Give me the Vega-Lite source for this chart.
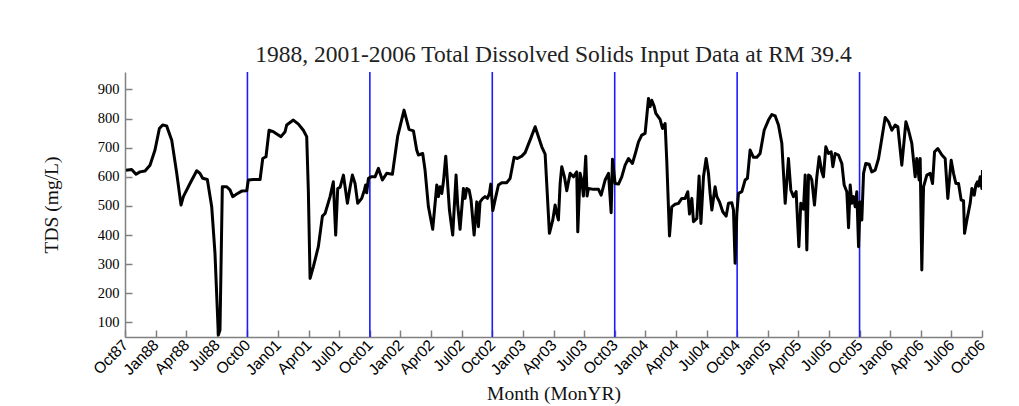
{
  "$schema": "https://vega.github.io/schema/vega-lite/v6.json",
  "autosize": "none",
  "width": 857,
  "height": 265,
  "padding": {"left": 125, "top": 72, "right": 37, "bottom": 69},
  "background": "white",
  "config": {
    "view": {"stroke": null},
    "axis": {
      "grid": false,
      "domainColor": "#808080",
      "domainWidth": 1.5,
      "tickColor": "#808080",
      "tickWidth": 1.5,
      "labelColor": "#000000",
      "labelOverlap": false,
      "titleColor": "#111111",
      "titleFont": "Liberation Serif",
      "titleFontWeight": "normal",
      "titleFontSize": 19.5
    }
  },
  "title": {
    "text": "1988, 2001-2006 Total Dissolved Solids Input Data at RM 39.4",
    "font": "Liberation Serif",
    "fontSize": 23.5,
    "fontWeight": "normal",
    "color": "#222222",
    "anchor": "middle",
    "offset": 5
  },
  "datasets": {
    "tds": [
      {"t": 0.1, "v": 623}, {"t": 0.65, "v": 625}, {"t": 1.08, "v": 609}, {"t": 1.47, "v": 617}, {"t": 1.96, "v": 620},
      {"t": 2.45, "v": 640}, {"t": 2.94, "v": 692}, {"t": 3.37, "v": 766}, {"t": 3.69, "v": 778}, {"t": 4.08, "v": 775},
      {"t": 4.58, "v": 726}, {"t": 5.07, "v": 612}, {"t": 5.49, "v": 503}, {"t": 5.72, "v": 532}, {"t": 6.37, "v": 577},
      {"t": 7.03, "v": 621}, {"t": 7.35, "v": 612}, {"t": 7.61, "v": 595}, {"t": 8.07, "v": 591}, {"t": 8.5, "v": 497},
      {"t": 8.82, "v": 337}, {"t": 9.15, "v": 57}, {"t": 9.31, "v": 74}, {"t": 9.54, "v": 566}, {"t": 9.97, "v": 566},
      {"t": 10.29, "v": 555}, {"t": 10.56, "v": 532}, {"t": 10.95, "v": 541}, {"t": 11.44, "v": 551}, {"t": 11.93, "v": 552},
      {"t": 12.09, "v": 589}, {"t": 12.58, "v": 591}, {"t": 13.24, "v": 591}, {"t": 13.5, "v": 663}, {"t": 13.82, "v": 669},
      {"t": 14.12, "v": 760}, {"t": 14.54, "v": 755}, {"t": 15.29, "v": 738}, {"t": 15.69, "v": 755}, {"t": 15.85, "v": 778},
      {"t": 16.5, "v": 795}, {"t": 17.0, "v": 781}, {"t": 17.48, "v": 760}, {"t": 17.81, "v": 738}, {"t": 17.97, "v": 554},
      {"t": 18.14, "v": 251}, {"t": 18.46, "v": 291}, {"t": 18.95, "v": 360}, {"t": 19.35, "v": 465}, {"t": 19.61, "v": 474},
      {"t": 20.1, "v": 532}, {"t": 20.42, "v": 583}, {"t": 20.65, "v": 400}, {"t": 20.85, "v": 560}, {"t": 21.08, "v": 564},
      {"t": 21.41, "v": 606}, {"t": 21.8, "v": 509}, {"t": 22.06, "v": 564}, {"t": 22.29, "v": 606}, {"t": 22.55, "v": 577},
      {"t": 22.81, "v": 509}, {"t": 23.2, "v": 526}, {"t": 23.46, "v": 554}, {"t": 23.59, "v": 572}, {"t": 23.69, "v": 545},
      {"t": 23.86, "v": 595}, {"t": 24.12, "v": 600}, {"t": 24.51, "v": 600}, {"t": 24.84, "v": 629}, {"t": 25.23, "v": 589},
      {"t": 25.65, "v": 612}, {"t": 26.21, "v": 609}, {"t": 26.73, "v": 740}, {"t": 27.35, "v": 829}, {"t": 27.84, "v": 763},
      {"t": 28.27, "v": 758}, {"t": 28.59, "v": 692}, {"t": 28.76, "v": 675}, {"t": 29.18, "v": 680}, {"t": 29.41, "v": 623},
      {"t": 29.74, "v": 497}, {"t": 30.16, "v": 420}, {"t": 30.56, "v": 572}, {"t": 30.72, "v": 532}, {"t": 30.88, "v": 566},
      {"t": 31.05, "v": 543}, {"t": 31.21, "v": 583}, {"t": 31.44, "v": 671}, {"t": 31.6, "v": 589}, {"t": 31.8, "v": 486},
      {"t": 32.12, "v": 400}, {"t": 32.45, "v": 606}, {"t": 32.61, "v": 503}, {"t": 32.84, "v": 420}, {"t": 33.17, "v": 560},
      {"t": 33.33, "v": 526}, {"t": 33.5, "v": 560}, {"t": 33.73, "v": 555}, {"t": 33.92, "v": 520}, {"t": 34.22, "v": 400},
      {"t": 34.48, "v": 514}, {"t": 34.64, "v": 429}, {"t": 34.8, "v": 514}, {"t": 35.07, "v": 526}, {"t": 35.29, "v": 532},
      {"t": 35.52, "v": 526}, {"t": 35.72, "v": 543}, {"t": 35.85, "v": 575}, {"t": 36.05, "v": 484}, {"t": 36.27, "v": 520},
      {"t": 36.6, "v": 572}, {"t": 36.93, "v": 580}, {"t": 37.42, "v": 580}, {"t": 37.75, "v": 595}, {"t": 38.14, "v": 667},
      {"t": 38.46, "v": 663}, {"t": 38.89, "v": 671}, {"t": 39.22, "v": 683}, {"t": 39.77, "v": 732}, {"t": 40.2, "v": 772},
      {"t": 40.85, "v": 703}, {"t": 41.18, "v": 678}, {"t": 41.6, "v": 406}, {"t": 41.93, "v": 452}, {"t": 42.16, "v": 503},
      {"t": 42.32, "v": 474}, {"t": 42.48, "v": 452}, {"t": 42.65, "v": 577}, {"t": 42.81, "v": 635}, {"t": 43.07, "v": 600},
      {"t": 43.3, "v": 552}, {"t": 43.63, "v": 612}, {"t": 43.95, "v": 600}, {"t": 44.28, "v": 617}, {"t": 44.38, "v": 411},
      {"t": 44.61, "v": 612}, {"t": 44.77, "v": 589}, {"t": 44.93, "v": 534}, {"t": 45.16, "v": 671}, {"t": 45.29, "v": 534},
      {"t": 45.42, "v": 560}, {"t": 45.92, "v": 557}, {"t": 46.41, "v": 557}, {"t": 46.67, "v": 537}, {"t": 47.06, "v": 589},
      {"t": 47.39, "v": 612}, {"t": 47.65, "v": 477}, {"t": 47.78, "v": 660}, {"t": 48.04, "v": 577}, {"t": 48.37, "v": 575},
      {"t": 48.69, "v": 600}, {"t": 49.02, "v": 640}, {"t": 49.35, "v": 663}, {"t": 49.74, "v": 646}, {"t": 50.07, "v": 686},
      {"t": 50.33, "v": 720}, {"t": 50.65, "v": 743}, {"t": 50.98, "v": 749}, {"t": 51.31, "v": 869}, {"t": 51.47, "v": 841},
      {"t": 51.63, "v": 863}, {"t": 51.86, "v": 843}, {"t": 52.03, "v": 818}, {"t": 52.45, "v": 797}, {"t": 52.68, "v": 766},
      {"t": 52.94, "v": 783}, {"t": 53.1, "v": 657}, {"t": 53.37, "v": 397}, {"t": 53.59, "v": 497}, {"t": 53.92, "v": 506},
      {"t": 54.25, "v": 509}, {"t": 54.58, "v": 526}, {"t": 54.9, "v": 526}, {"t": 55.16, "v": 549}, {"t": 55.33, "v": 472},
      {"t": 55.56, "v": 526}, {"t": 55.72, "v": 446}, {"t": 56.05, "v": 457}, {"t": 56.27, "v": 603}, {"t": 56.45, "v": 440},
      {"t": 56.7, "v": 600}, {"t": 56.96, "v": 663}, {"t": 57.19, "v": 612}, {"t": 57.35, "v": 543}, {"t": 57.52, "v": 486},
      {"t": 57.84, "v": 566}, {"t": 58.01, "v": 532}, {"t": 58.27, "v": 514}, {"t": 58.59, "v": 480}, {"t": 58.92, "v": 465},
      {"t": 59.15, "v": 509}, {"t": 59.48, "v": 511}, {"t": 59.64, "v": 486}, {"t": 59.8, "v": 303}, {"t": 59.97, "v": 474},
      {"t": 60.13, "v": 543}, {"t": 60.46, "v": 549}, {"t": 60.78, "v": 589}, {"t": 61.01, "v": 595}, {"t": 61.27, "v": 692},
      {"t": 61.6, "v": 667}, {"t": 61.93, "v": 667}, {"t": 62.25, "v": 680}, {"t": 62.65, "v": 760}, {"t": 63.07, "v": 795},
      {"t": 63.4, "v": 814}, {"t": 63.73, "v": 809}, {"t": 64.05, "v": 778}, {"t": 64.38, "v": 715}, {"t": 64.71, "v": 509},
      {"t": 65.03, "v": 663}, {"t": 65.26, "v": 555}, {"t": 65.52, "v": 532}, {"t": 65.78, "v": 549}, {"t": 66.05, "v": 360},
      {"t": 66.24, "v": 509}, {"t": 66.5, "v": 489}, {"t": 66.67, "v": 606}, {"t": 66.83, "v": 349}, {"t": 67.0, "v": 606},
      {"t": 67.16, "v": 603}, {"t": 67.32, "v": 589}, {"t": 67.58, "v": 503}, {"t": 67.81, "v": 600}, {"t": 68.04, "v": 669},
      {"t": 68.3, "v": 617}, {"t": 68.46, "v": 600}, {"t": 68.69, "v": 703}, {"t": 68.95, "v": 680}, {"t": 69.22, "v": 686},
      {"t": 69.38, "v": 635}, {"t": 69.61, "v": 680}, {"t": 69.93, "v": 675}, {"t": 70.26, "v": 646}, {"t": 70.49, "v": 572},
      {"t": 70.75, "v": 549}, {"t": 70.92, "v": 425}, {"t": 71.08, "v": 572}, {"t": 71.24, "v": 509}, {"t": 71.41, "v": 532},
      {"t": 71.57, "v": 497}, {"t": 71.73, "v": 549}, {"t": 71.9, "v": 360}, {"t": 72.06, "v": 514}, {"t": 72.22, "v": 452},
      {"t": 72.39, "v": 612}, {"t": 72.61, "v": 646}, {"t": 72.94, "v": 643}, {"t": 73.2, "v": 617}, {"t": 73.53, "v": 623},
      {"t": 73.86, "v": 663}, {"t": 74.18, "v": 732}, {"t": 74.51, "v": 804}, {"t": 74.84, "v": 789}, {"t": 75.16, "v": 760},
      {"t": 75.49, "v": 778}, {"t": 75.75, "v": 772}, {"t": 76.14, "v": 640}, {"t": 76.54, "v": 789}, {"t": 76.8, "v": 760},
      {"t": 77.12, "v": 715}, {"t": 77.45, "v": 600}, {"t": 77.61, "v": 663}, {"t": 77.84, "v": 589}, {"t": 77.94, "v": 663},
      {"t": 78.1, "v": 280}, {"t": 78.27, "v": 566}, {"t": 78.59, "v": 606}, {"t": 78.92, "v": 612}, {"t": 79.15, "v": 577},
      {"t": 79.35, "v": 686}, {"t": 79.67, "v": 697}, {"t": 80.07, "v": 675}, {"t": 80.39, "v": 663}, {"t": 80.65, "v": 526},
      {"t": 80.98, "v": 657}, {"t": 81.21, "v": 612}, {"t": 81.44, "v": 577}, {"t": 81.7, "v": 577}, {"t": 81.96, "v": 520},
      {"t": 82.19, "v": 518}, {"t": 82.29, "v": 406}, {"t": 82.52, "v": 452}, {"t": 82.84, "v": 509}, {"t": 83.01, "v": 560},
      {"t": 83.24, "v": 537}, {"t": 83.4, "v": 572}, {"t": 83.56, "v": 583}, {"t": 83.66, "v": 568}, {"t": 83.82, "v": 600},
      {"t": 83.99, "v": 560}, {"t": 84.05, "v": 623}
    ],
    "sep": [{"t": 12}, {"t": 24}, {"t": 36}, {"t": 48}, {"t": 60}, {"t": 72}]
  },
  "encoding": {
    "x": {
      "field": "t",
      "type": "quantitative",
      "scale": {"domain": [0, 84], "nice": false, "zero": false},
      "axis": {
        "title": "Month (MonYR)",
        "values": [0, 3, 6, 9, 12, 15, 18, 21, 24, 27, 30, 33, 36, 39, 42, 45, 48, 51, 54, 57, 60, 63, 66, 69, 72, 75, 78, 81, 84],
        "labelExpr": "['Oct87','Jan88','Apr88','Jul88','Oct00','Jan01','Apr01','Jul01','Oct01','Jan02','Apr02','Jul02','Oct02','Jan03','Apr03','Jul03','Oct03','Jan04','Apr04','Jul04','Oct04','Jan05','Apr05','Jul05','Oct05','Jan06','Apr06','Jul06','Oct06'][round(datum.value/3)]",
        "labelAngle": -45,
        "labelAlign": "right",
        "labelBaseline": "middle",
        "labelFont": "Liberation Sans",
        "labelFontSize": 15.5,
        "labelPadding": 12,
        "labelFlush": false,
        "labelOverlap": false,
        "labelBound": false,
        "tickSize": -7,
        "titlePadding": 7
      }
    }
  },
  "layer": [
    {
      "data": {"name": "sep"},
      "mark": {"type": "rule", "color": "#1c1cff", "strokeWidth": 1.6}
    },
    {
      "data": {"name": "tds"},
      "mark": {"type": "line", "color": "#000000", "strokeWidth": 3, "clip": true, "strokeJoin": "round"},
      "encoding": {
        "y": {
          "field": "v",
          "type": "quantitative",
          "scale": {"domain": [50, 960], "nice": false, "zero": false},
          "axis": {
            "title": "TDS (mg/L)",
            "values": [100, 200, 300, 400, 500, 600, 700, 800, 900],
            "labelFont": "Liberation Serif",
            "labelFontSize": 14.5,
            "labelPadding": 13,
            "labelOverlap": false,
            "tickSize": -7,
            "titlePadding": 36
          }
        }
      }
    }
  ]
}
